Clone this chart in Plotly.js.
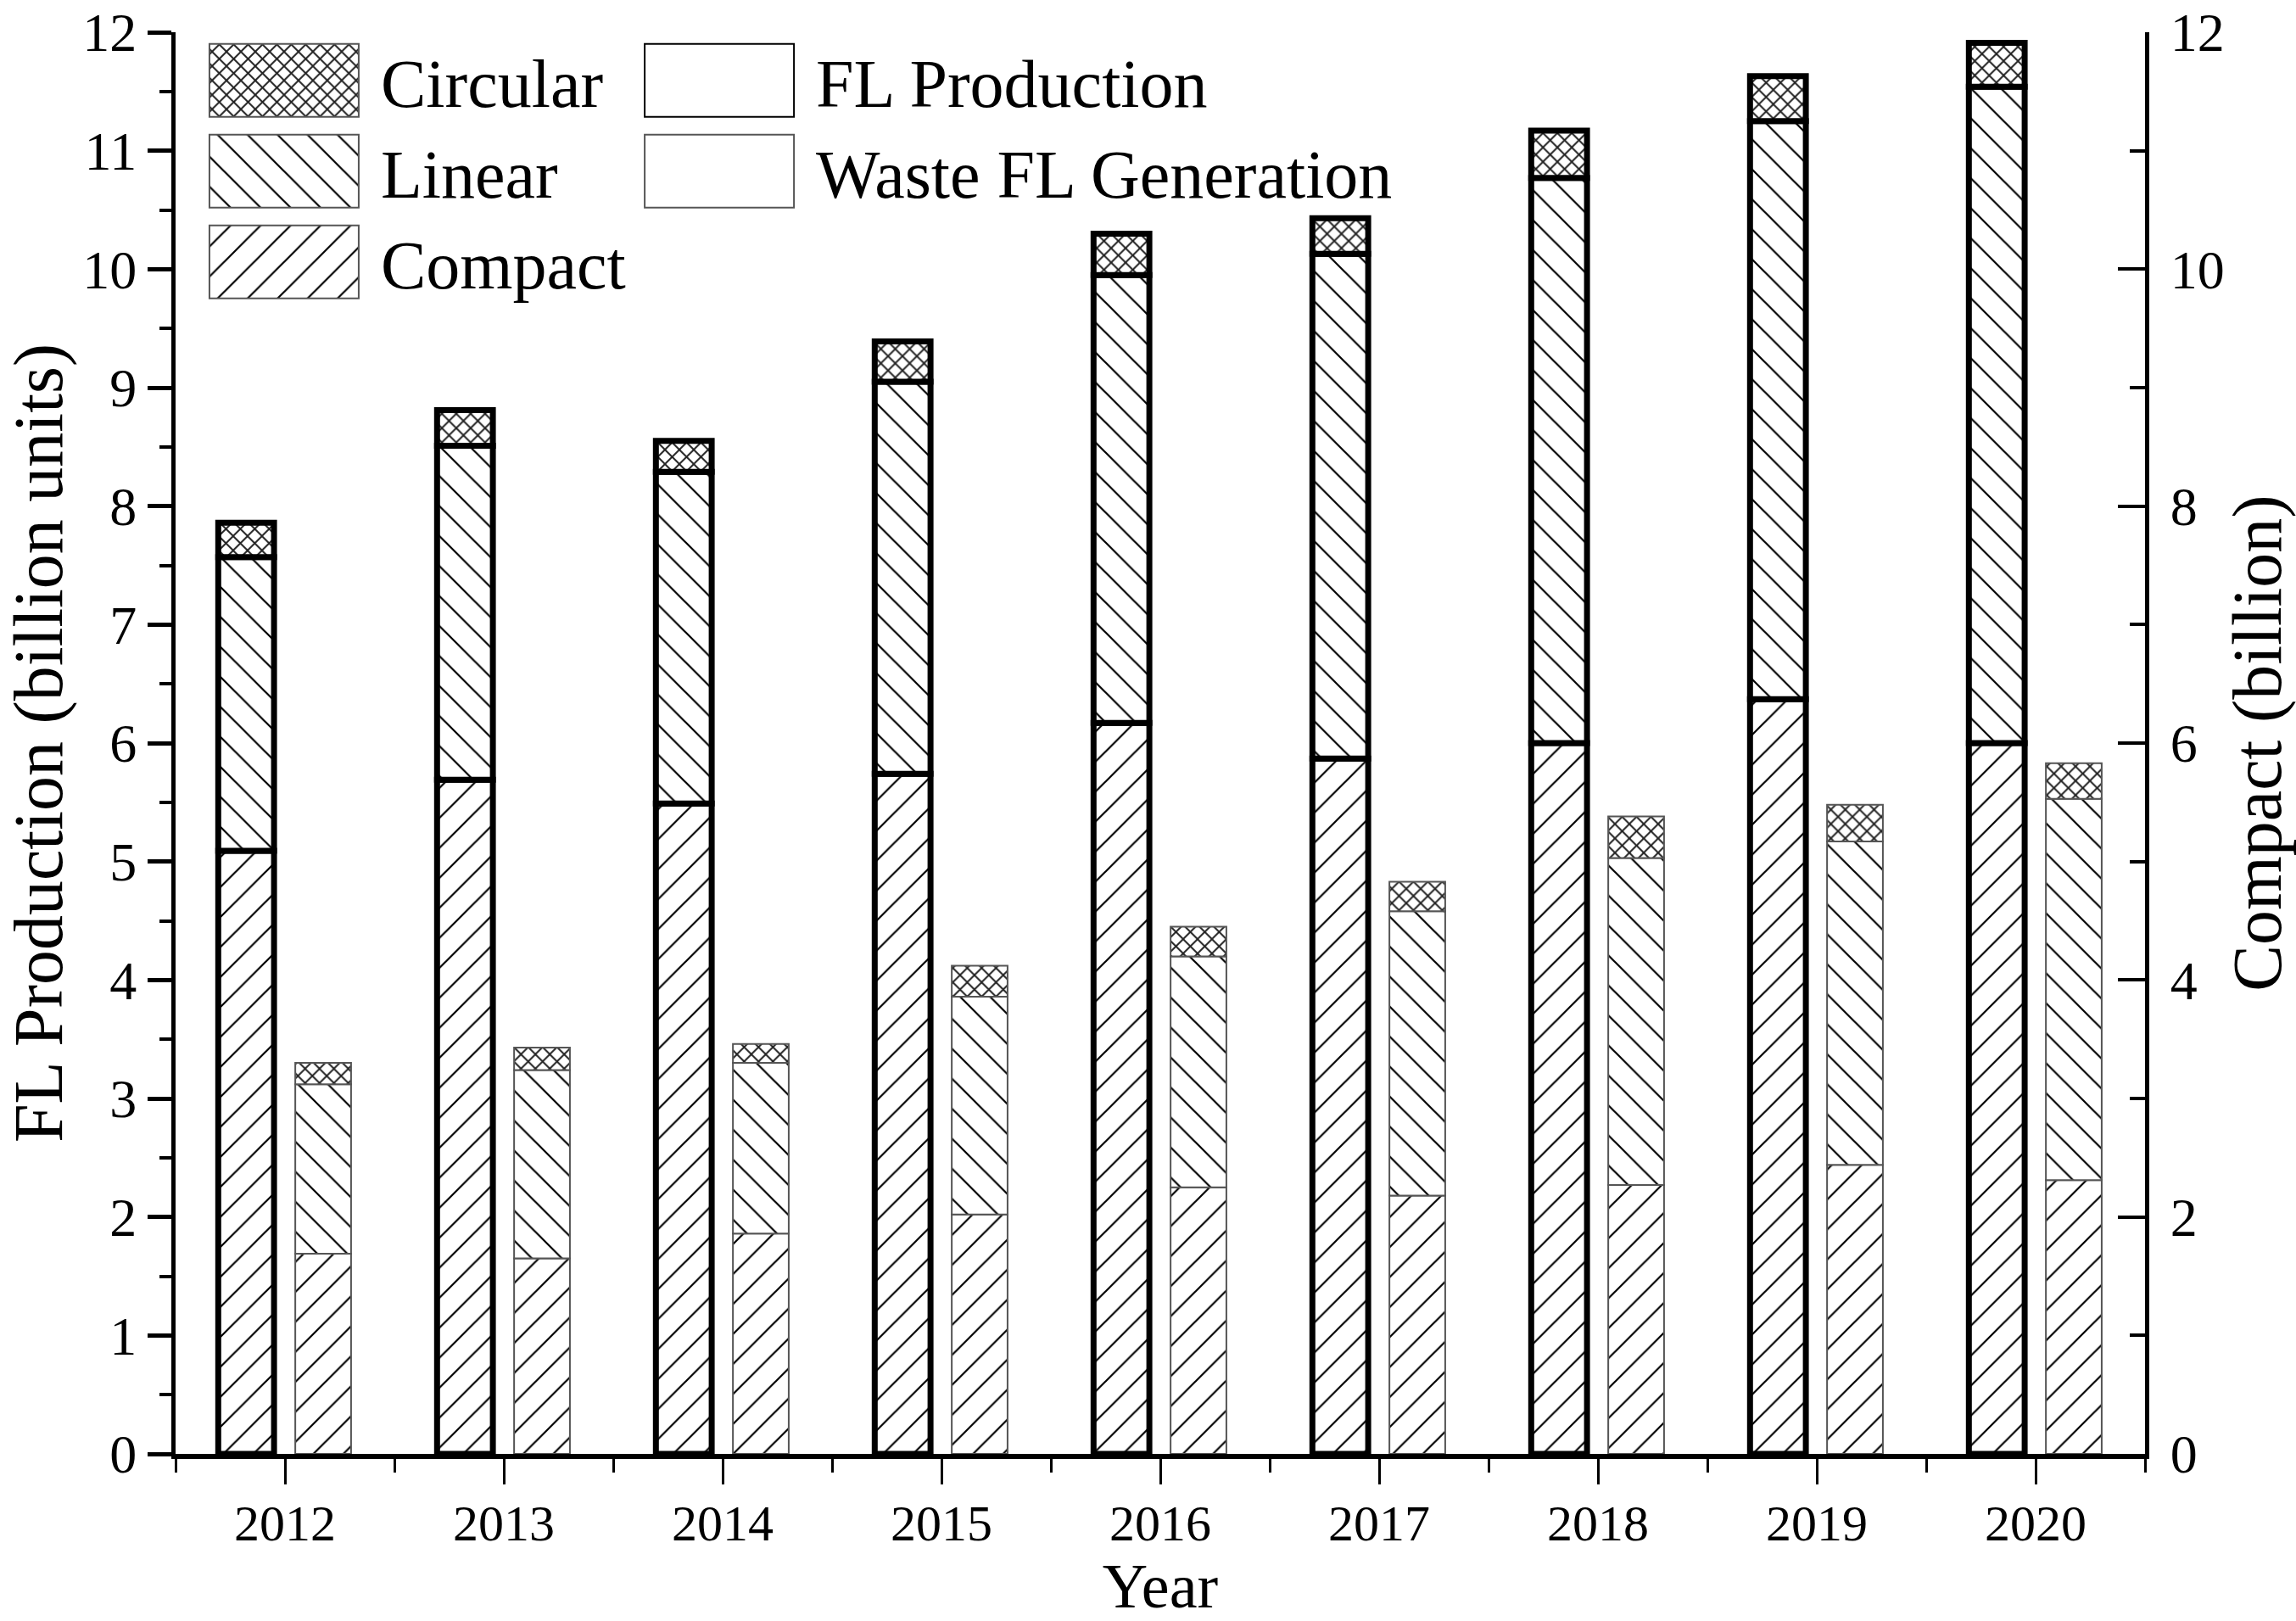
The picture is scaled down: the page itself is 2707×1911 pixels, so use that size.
<!DOCTYPE html>
<html>
<head>
<meta charset="utf-8">
<script src="https://cdn.plot.ly/plotly-3.0.1.min.js"></script>
<style>
  html, body { margin: 0; padding: 0; background: #fff; }
  #chart { width: 2707px; height: 1911px; }
</style>
</head>
<body>
<div id="chart"></div>
<script>
const years = [2012, 2013, 2014, 2015, 2016, 2017, 2018, 2019, 2020];

// FL production, billion units (left axis)
const prodCompact  = [5.09, 5.69, 5.49, 5.74, 6.17, 5.87, 6.00, 6.37, 6.00];
const prodLinear   = [2.48, 2.82, 2.80, 3.31, 3.78, 4.26, 4.77, 4.88, 5.54];
const prodCircular = [0.29, 0.30, 0.26, 0.34, 0.35, 0.30, 0.40, 0.38, 0.37];

// Waste FL generation, billion (right axis)
const wasteCompact  = [1.69, 1.65, 1.86, 2.02, 2.25, 2.18, 2.27, 2.44, 2.31];
const wasteLinear   = [1.43, 1.59, 1.44, 1.84, 1.95, 2.40, 2.76, 2.73, 3.22];
const wasteCircular = [0.18, 0.19, 0.16, 0.26, 0.25, 0.25, 0.35, 0.31, 0.30];

const FONT = "Liberation Serif, Times New Roman, serif";
const BAR_W = 0.255;

const PAT = {
  compact:  { shape: "/",  size: 25, solidity: 0.09, fgcolor: "#000", bgcolor: "#fff" },
  linear:   { shape: "\\", size: 25, solidity: 0.09, fgcolor: "#000", bgcolor: "#fff" },
  circular: { shape: "x",  size: 12, solidity: 0.3, fgcolor: "#222", bgcolor: "#fff" },
};

function addArrays(a, b) {
  return a.map((v, i) => v + b[i]);
}

function stackTrace(name, vals, base, pattern, opts) {
  return {
    type: "bar",
    name,
    x: years,
    y: vals,
    base,
    offset: opts.offset,
    width: BAR_W,
    yaxis: opts.yaxis,
    legend: "legend",
    legendrank: opts.rank || 1000,
    showlegend: !!opts.showlegend,
    marker: {
      color: "#fff",
      pattern,
      line: { color: opts.lineColor, width: opts.lineWidth },
    },
    hoverinfo: "x+y+name",
  };
}

const zeros = years.map(() => 0);
const prodBase2 = prodCompact.slice();
const prodBase3 = addArrays(prodCompact, prodLinear);
const wasteBase2 = wasteCompact.slice();
const wasteBase3 = addArrays(wasteCompact, wasteLinear);

const prodOpts = { offset: -0.305, yaxis: "y", lineColor: "#000", lineWidth: 7 };
const wasteOpts = { offset: 0.047, yaxis: "y2", lineColor: "#555", lineWidth: 2 };

const data = [
  stackTrace("Compact", prodCompact, zeros, PAT.compact, prodOpts),
  stackTrace("Linear", prodLinear, prodBase2, PAT.linear, prodOpts),
  stackTrace("Circular", prodCircular, prodBase3, PAT.circular, prodOpts),
  stackTrace("Compact", wasteCompact, zeros, PAT.compact, { ...wasteOpts, rank: 3, showlegend: true }),
  stackTrace("Linear", wasteLinear, wasteBase2, PAT.linear, { ...wasteOpts, rank: 2, showlegend: true }),
  stackTrace("Circular", wasteCircular, wasteBase3, PAT.circular, { ...wasteOpts, rank: 1, showlegend: true }),
  // legend-only entries for the two bar groups
  {
    type: "bar", name: "FL Production", x: [null], y: [null], legend: "legend2", legendrank: 1,
    showlegend: true,
    marker: { color: "#fff", line: { color: "#000", width: 7 } },
  },
  {
    type: "bar", name: "Waste FL Generation", x: [null], y: [null], legend: "legend2", legendrank: 2,
    showlegend: true,
    marker: { color: "#fff", line: { color: "#555", width: 2 } },
  },
];

const halfYears = [years[0] - 0.5].concat(years.map(y => y + 0.5));

const legendBase = {
  y: 1.001, xanchor: "left", yanchor: "top",
  bgcolor: "rgba(0,0,0,0)", borderwidth: 0,
  font: { family: FONT, size: 80 },
  traceorder: "normal",
  tracegroupgap: 0,
  itemwidth: 218,
};

const layout = {
  width: 2707,
  height: 1911,
  margin: { l: 207, r: 178, t: 38, b: 197 },
  paper_bgcolor: "#fff",
  plot_bgcolor: "#fff",
  barmode: "overlay",
  showlegend: true,
  font: { family: FONT, size: 64, color: "#000" },
  xaxis: {
    range: [2011.5, 2020.5],
    tickmode: "array",
    tickvals: years,
    ticktext: years.map(String),
    ticks: "outside",
    ticklen: 30,
    tickwidth: 3,
    tickcolor: "#000",
    minor: { tickmode: "array", tickvals: halfYears, ticks: "outside", ticklen: 16, tickwidth: 3, tickcolor: "#000" },
    showline: true,
    linewidth: 6,
    linecolor: "#000",
    showgrid: false,
    zeroline: false,
    tickfont: { family: FONT, size: 60 },
    ticklabelstandoff: -6,
    title: { text: "Year", font: { family: FONT, size: 74 }, standoff: 34 },
  },
  yaxis: {
    range: [0, 12],
    dtick: 1,
    ticks: "outside",
    ticklen: 28,
    tickwidth: 5,
    tickcolor: "#000",
    minor: { dtick: 0.5, ticks: "outside", ticklen: 14, tickwidth: 4, tickcolor: "#000" },
    showline: true,
    linewidth: 5,
    linecolor: "#000",
    showgrid: false,
    zeroline: false,
    tickfont: { family: FONT, size: 64 },
    title: { text: "FL Production (billion units)", font: { family: FONT, size: 82 }, standoff: 18 },
  },
  yaxis2: {
    overlaying: "y",
    side: "right",
    range: [0, 12],
    dtick: 2,
    ticks: "inside",
    ticklen: 32,
    tickwidth: 4,
    tickcolor: "#000",
    minor: { dtick: 1, ticks: "inside", ticklen: 18, tickwidth: 4, tickcolor: "#000" },
    showline: true,
    linewidth: 5,
    linecolor: "#000",
    showgrid: false,
    zeroline: false,
    tickfont: { family: FONT, size: 64 },
    ticklabelstandoff: 12,
    title: { text: "Compact (billion)", font: { family: FONT, size: 82 }, standoff: 18 },
  },
  legend: { ...legendBase, x: 0.006 },
  legend2: { ...legendBase, x: 0.227 },
};

// legend swatches in the original are large boxes; widen Plotly's default ones
// and reuse the hatch fill of the matching waste bars so the patterns match
function enlargeSwatches() {
  const fillOf = {};
  document.querySelectorAll("#chart .barlayer .trace").forEach(el => {
    const cd = el.__data__;
    const tr = cd && cd[0] && cd[0].trace;
    if (!tr || tr.yaxis !== "y2") return;
    const pt = el.querySelector(".point path");
    if (pt) fillOf[tr.name] = pt.style.fill;
  });
  document.querySelectorAll("#chart .infolayer g.traces").forEach(tr => {
    const label = tr.querySelector(".legendtext");
    const name = label ? label.textContent : "";
    tr.querySelectorAll(".legendpoints path").forEach(p => {
      p.setAttribute("d", "M88,43H-88V-43H88Z");
      p.style.strokeWidth = name === "FL Production" ? "7px" : "2px";
      p.style.fill = fillOf[name] || "#fff";
    });
  });
}

Plotly.newPlot("chart", data, layout, { staticPlot: true }).then(enlargeSwatches);
</script>
</body>
</html>
